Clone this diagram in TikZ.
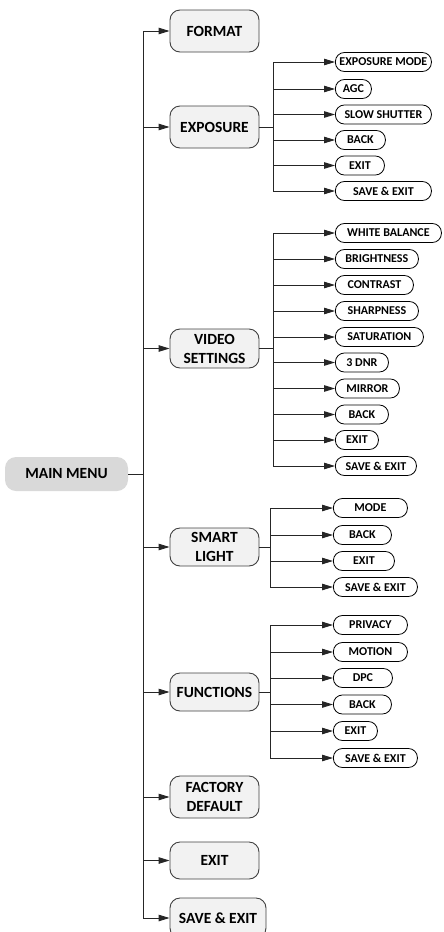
\documentclass[tikz,border=0pt]{standalone}
\usepackage{fontspec}
\setmainfont{Carlito}
\usepackage{tikz}
\usetikzlibrary{positioning, arrows.meta}

\definecolor{rootgray}{HTML}{D9D9D9}
\definecolor{menufill}{HTML}{F2F2F2}
\definecolor{edgegray}{HTML}{404040}

\tikzset{
  rootbox/.style={fill=rootgray, rounded corners=11pt, minimum width=123pt,
    minimum height=34pt, inner sep=0pt, font=\fontsize{15.5}{19}\selectfont\bfseries},
  menubox/.style={draw=edgegray, line width=0.9pt, fill=menufill, rounded corners=10pt,
    minimum width=89pt, inner sep=0pt, align=center,
    font=\fontsize{15.5}{19}\selectfont\bfseries},
  itembox/.style={draw=black, line width=0.8pt, rounded corners=9pt, anchor=west,
    minimum height=19pt, inner sep=0pt, font=\fontsize{12}{14}\selectfont\bfseries},
  link/.style={line width=0.9pt, draw=black!85},
  arr/.style={link, -{Triangle[length=11pt,width=6.5pt]}}
}

\begin{document}
\begin{tikzpicture}[x=1pt, y=-1pt]
  \clip (0,0) rectangle (444,932);

  % ── Root ──
  \node[rootbox] (mainmenu) at (66.5,474) {MAIN MENU};
  \coordinate (maintrunk) at (143,474);

  % ── First level ──
  \node[menubox, minimum height=42pt] (format) at (214.5,31) {FORMAT};
  \node[menubox, minimum height=42pt] (exposure) at (214.5,127) {EXPOSURE};
  \node[menubox, minimum height=39pt] (video) at (214.5,348.5) {VIDEO\\SETTINGS};
  \node[menubox, minimum height=38pt] (smart) at (214.5,547) {SMART\\LIGHT};
  \node[menubox, minimum height=38pt] (functions) at (214.5,692) {FUNCTIONS};
  \node[menubox, minimum height=42pt] (factory) at (214.5,797) {FACTORY\\DEFAULT};
  \node[menubox, minimum height=37pt] (exit) at (214.5,860.5) {EXIT};
  \node[menubox, minimum height=40pt, minimum width=96pt] (saveexit) at (218,918) {SAVE \& EXIT};

  \draw[link] (mainmenu.east) -- (maintrunk);
  \foreach \n in {format, exposure, video, smart, functions, factory, exit, saveexit}
    \draw[arr] (maintrunk) |- (\n.west);

  % ── Exposure items ──
  \coordinate (exptrunk) at (273,127);
  \foreach \n/\y/\w/\t in {expmode/62/96/EXPOSURE MODE, expagc/89/36/AGC,
      expshutter/114.5/96/SLOW SHUTTER, expback/140/50/BACK,
      expexit/165.5/49/EXIT, expsave/191/96/SAVE \& EXIT} {
    \node[itembox, minimum width=\w pt] (\n) at (335,\y) {\t};
    \draw[arr] (exposure.east) -- (exptrunk) |- (\n.west);
  }

  % ── Video settings items ──
  \coordinate (vidtrunk) at (273,348.5);
  \foreach \n/\y/\w/\t in {vidwb/233/106/WHITE BALANCE, vidbright/259/83/BRIGHTNESS,
      vidcontrast/285/78/CONTRAST, vidsharp/311/83/SHARPNESS,
      vidsat/337/88/SATURATION, viddnr/362.5/53/3 DNR, vidmirror/388.5/64/MIRROR,
      vidback/414.5/53/BACK, videxit/440/43/EXIT, vidsave/466/81/SAVE \& EXIT} {
    \node[itembox, minimum width=\w pt] (\n) at (335,\y) {\t};
    \draw[arr] (video.east) -- (vidtrunk) |- (\n.west);
  }

  % ── Smart light items ──
  \coordinate (smarttrunk) at (270,547);
  \foreach \n/\y/\w/\t in {smartmode/508/74/MODE, smartback/535/58/BACK,
      smartexit/561/61/EXIT, smartsave/587/84/SAVE \& EXIT} {
    \node[itembox, minimum width=\w pt] (\n) at (333,\y) {\t};
    \draw[arr] (smart.east) -- (smarttrunk) |- (\n.west);
  }

  % ── Functions items ──
  \coordinate (functrunk) at (270,692);
  \foreach \n/\y/\w/\t in {funcprivacy/625/74/PRIVACY, funcmotion/652/74/MOTION,
      funcdpc/678/59/DPC, funcback/704.5/58/BACK, funcexit/731/44/EXIT,
      funcsave/758/84/SAVE \& EXIT} {
    \node[itembox, minimum width=\w pt] (\n) at (333,\y) {\t};
    \draw[arr] (functions.east) -- (functrunk) |- (\n.west);
  }
\end{tikzpicture}
\end{document}
